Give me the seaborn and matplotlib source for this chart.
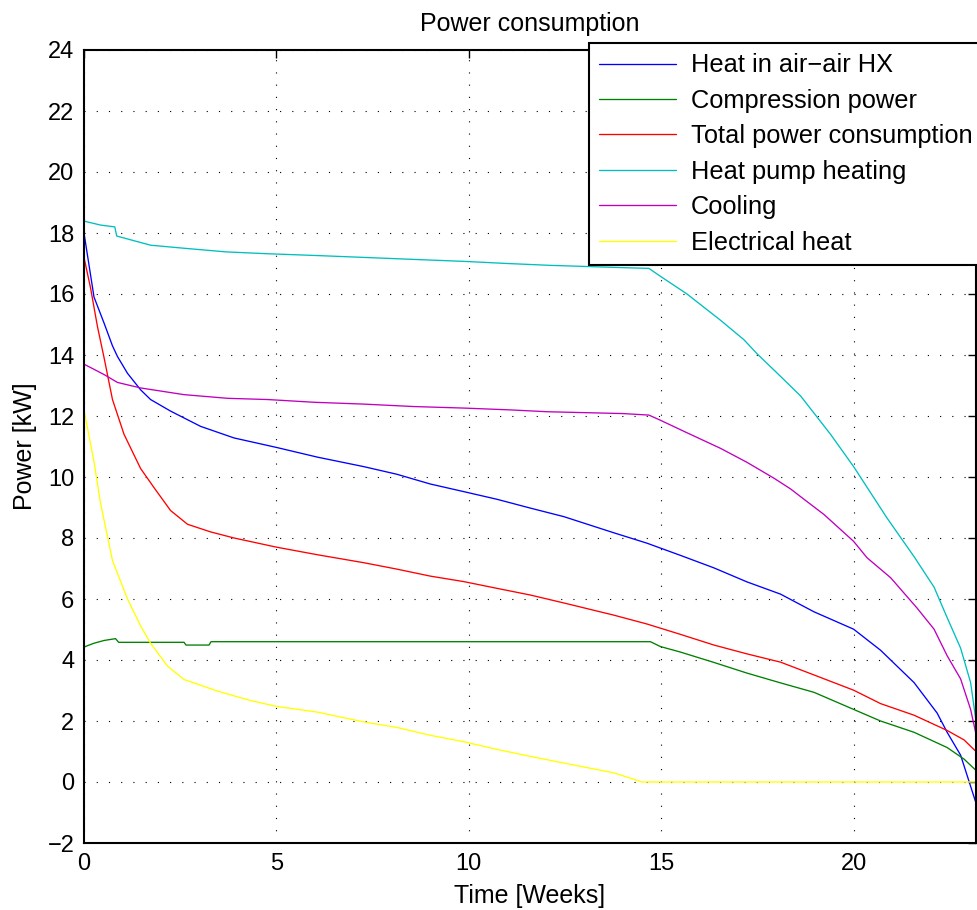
import matplotlib
matplotlib.use("Agg")
import matplotlib.pyplot as plt
import numpy as np
import pandas as pd
import seaborn as sns

# ---- data: time [weeks] and power [kW] per series ----
hx_t = [0, 0, 0.26, 0.52, 0.74, 0.87, 1.13, 1.47, 1.73, 2.25, 3.03, 3.9, 5.0, 6.07,
        7.27, 8.13, 9.0, 9.87, 10.73, 11.6, 12.47, 13.77, 14.63, 15.5, 16.37, 17.23,
        18.1, 18.97, 20.0, 20.7, 21.57, 22.17, 22.43, 22.78, 23.18]
hx_p = [1.0, 18.0, 15.9, 15.05, 14.3, 13.95, 13.4, 12.86, 12.54, 12.16, 11.66, 11.28,
        10.97, 10.65, 10.34, 10.09, 9.77, 9.52, 9.27, 8.98, 8.70, 8.17, 7.83, 7.43, 7.02,
        6.56, 6.16, 5.58, 5.01, 4.32, 3.26, 2.26, 1.63, 0.88, -0.69]

comp_t = [0, 0.01, 0.26, 0.52, 0.82, 0.9, 2.6, 2.65, 3.25, 3.3, 14.72, 14.98, 15.5,
          16.37, 17.23, 18.1, 18.97, 20.0, 20.7, 21.57, 22.43, 22.87, 23.18]
comp_p = [5.05, 4.43, 4.55, 4.64, 4.70, 4.58, 4.58, 4.49, 4.49, 4.6, 4.6, 4.44, 4.26,
          3.92, 3.57, 3.25, 2.94, 2.38, 2.0, 1.63, 1.13, 0.75, 0.38]

tot_t = [0, 0.17, 0.35, 0.52, 0.74, 1.04, 1.47, 1.82, 2.25, 2.69, 3.29, 3.9, 5.0, 6.07,
         7.27, 8.13, 9.0, 9.87, 10.73, 11.6, 12.47, 13.77, 14.63, 15.5, 16.37, 17.23,
         18.1, 18.97, 20.0, 20.7, 21.57, 22.43, 22.87, 23.18]
tot_p = [17.2, 16.2, 14.93, 13.92, 12.54, 11.4, 10.28, 9.65, 8.9, 8.45, 8.2, 8.0, 7.7,
         7.45, 7.19, 6.98, 6.75, 6.57, 6.35, 6.13, 5.87, 5.47, 5.18, 4.84, 4.49, 4.2,
         3.93, 3.51, 3.01, 2.57, 2.19, 1.69, 1.38, 1.0]

hp_t = [0, 0.43, 0.8, 0.85, 1.73, 2.6, 3.7, 4.77, 6.07, 7.27, 8.65, 9.87, 11.0, 12.1,
        14.11, 14.68, 14.98, 15.67, 16.54, 17.15, 17.49, 18.01, 18.62, 19.4, 20.0,
        20.87, 21.57, 22.09, 22.43, 22.78, 23.04, 23.18]
hp_p = [18.39, 18.26, 18.2, 17.9, 17.6, 17.5, 17.38, 17.32, 17.26, 17.2, 17.13, 17.07,
        17.0, 16.94, 16.86, 16.84, 16.58, 16.0, 15.14, 14.5, 14.04, 13.41, 12.66, 11.4,
        10.34, 8.65, 7.39, 6.39, 5.39, 4.39, 3.26, 2.0]

cool_t = [0, 0.52, 0.87, 1.47, 2.6, 3.73, 4.77, 5.98, 7.27, 8.57, 9.87, 11.08, 12.03,
          14.0, 14.68, 14.98, 15.67, 16.54, 17.23, 17.93, 18.36, 18.71, 19.23, 20.0,
          20.35, 20.96, 21.65, 22.09, 22.43, 22.78, 23.04, 23.18]
cool_p = [13.7, 13.36, 13.1, 12.92, 12.7, 12.58, 12.54, 12.45, 12.39, 12.31, 12.26,
          12.2, 12.14, 12.08, 12.03, 11.86, 11.45, 10.94, 10.48, 9.96, 9.61, 9.27, 8.77,
          7.89, 7.35, 6.7, 5.7, 5.01, 4.14, 3.38, 2.38, 1.57]

el_t = [0, 0, 0.26, 0.43, 0.74, 1.13, 1.47, 1.73, 2.17, 2.6, 3.47, 4.33, 5.0, 6.07,
        7.27, 8.13, 9.0, 9.87, 10.73, 11.6, 12.47, 13.77, 14.5, 23.18]
el_p = [24.0, 12.2, 10.5, 9.14, 7.26, 6.0, 5.12, 4.55, 3.8, 3.36, 2.98, 2.67, 2.48, 2.29,
        1.97, 1.79, 1.53, 1.32, 1.07, 0.84, 0.62, 0.3, 0.0, 0.0]

series_names = ["Heat in air\u2212air HX", "Compression power", "Total power consumption",
                "Heat pump heating", "Cooling", "Electrical heat"]
series_colors = ["#0000ff", "#008000", "#ff0000", "#00bfbf", "#bf00bf", "#ffff00"]
series_data = [(hx_t, hx_p), (comp_t, comp_p), (tot_t, tot_p),
               (hp_t, hp_p), (cool_t, cool_p), (el_t, el_p)]

frames = []
for name, (t, p) in zip(series_names, series_data):
    frames.append(pd.DataFrame({"time": t, "power": p, "series": name}))
df = pd.concat(frames, ignore_index=True)

sns.set_theme(style="white")
plt.rcParams["font.family"] = ["Liberation Sans", "DejaVu Sans"]
plt.rcParams["axes.unicode_minus"] = True
plt.rcParams["text.color"] = "black"
plt.rcParams["axes.labelcolor"] = "black"

fig = plt.figure(figsize=(9.78, 9.10), dpi=100)
ax = fig.add_axes([84 / 978, 1 - 843 / 910, (976 - 84) / 978, (843 - 50) / 910])

sns.lineplot(data=df, x="time", y="power", hue="series", hue_order=series_names,
             palette=dict(zip(series_names, series_colors)), estimator=None,
             sort=False, units="series", linewidth=0.95, ax=ax, legend=True)

ax.set_xlim(0, 23.18)
ax.set_ylim(-2, 24)
ax.set_xticks([0, 5, 10, 15, 20])
ax.set_yticks(np.arange(-2, 25, 2))
ax.tick_params(direction="in", length=6, width=1.0, top=True, right=True,
               labelsize=17, pad=7, colors="black")
ax.grid(True, color="black", linestyle=(0, (1, 10)), linewidth=0.8)
for s in ax.spines.values():
    s.set_visible(True)
    s.set_color("black")
    s.set_linewidth(1.5)

ax.set_title("Power consumption", fontsize=18, pad=14, color="black")
ax.set_xlabel("Time [Weeks]", fontsize=18)
ax.set_ylabel("Power [kW]", fontsize=18)
ax.xaxis.set_label_coords(0.5, -0.052)
ax.yaxis.set_label_coords(-0.053, 0.5)

# boxed legend hanging over the upper right corner of the axes
handles, labels = ax.get_legend_handles_labels()
leg = ax.legend(handles, labels, loc="upper left",
                bbox_to_anchor=(589 / 978, 1 - 43 / 910), bbox_transform=fig.transFigure,
                borderaxespad=0, fontsize=18.3, handlelength=3.0, handletextpad=0.6,
                labelspacing=0.45, borderpad=0.41, fancybox=False, framealpha=1,
                edgecolor="black")
leg.get_frame().set_linewidth(1.5)
for line in leg.get_lines():
    line.set_linewidth(0.95)

fig.savefig("out.png", dpi=100)
